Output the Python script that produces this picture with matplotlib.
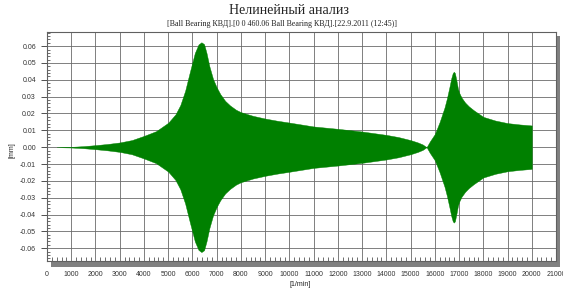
import matplotlib.pyplot as plt
import matplotlib.ticker as mticker
from matplotlib.patches import Rectangle

plt.rcParams['font.family'] = ['Liberation Sans', 'DejaVu Sans']

# envelope of the response, mm vs rpm
rpm = [400, 1000, 1500, 2000, 2500, 3000, 3500, 4000, 4500, 5000, 5300,
       5500, 5700, 5900, 6100, 6250, 6370, 6480, 6580, 6700, 6850, 7000,
       7150, 7350, 7550, 7800, 8000, 8500, 9000, 9500, 10000, 11000, 12000,
       13000, 14000, 14500, 15000, 15300, 15500, 15660, 15800, 16000, 16200,
       16400, 16500, 16600, 16680, 16740, 16785, 16830, 16900, 16950, 17000,
       17100, 17250, 17400, 17600, 17800, 18000, 18500, 19000, 19500, 20000]
amp = [0.0, 0.0002, 0.0006, 0.0012, 0.0019, 0.0028, 0.0042, 0.0067, 0.0095,
       0.0145, 0.0195, 0.0250, 0.0335, 0.0450, 0.0560, 0.0610, 0.0623,
       0.0612, 0.0560, 0.0480, 0.0405, 0.0355, 0.0315, 0.0275, 0.0248,
       0.0222, 0.0208, 0.0186, 0.0170, 0.0157, 0.0146, 0.0123, 0.0109,
       0.0093, 0.0073, 0.0060, 0.0042, 0.0028, 0.0016, 0.0, 0.0035, 0.0078,
       0.0150, 0.0235, 0.0290, 0.0355, 0.0410, 0.0440, 0.0448, 0.0440,
       0.0390, 0.0350, 0.0325, 0.0295, 0.0265, 0.0243, 0.0220, 0.0200,
       0.0180, 0.0158, 0.0143, 0.0135, 0.0129]
lower = [-a for a in amp]

xticks = list(range(0, 21001, 1000))
yticks = [-0.06, -0.05, -0.04, -0.03, -0.02, -0.01, 0.0,
          0.01, 0.02, 0.03, 0.04, 0.05, 0.06]

W, H = 563, 291
fig = plt.figure(figsize=(W / 100, H / 100), dpi=100)
fig.patch.set_facecolor('white')

# axes box in pixels: left 47, right 556, top 32, bottom 261
ax = fig.add_axes([47 / W, 1 - 261 / H, (556 - 47) / W, (261 - 32) / H])
ax.set_zorder(2)

# drop shadow of the plot frame
fig.patches.append(Rectangle((51 / W, 1 - 267 / H), (560 - 51) / W, (267 - 36) / H,
                             transform=fig.transFigure, facecolor='#808080',
                             edgecolor='none', zorder=0))

ax.fill_between(rpm, lower, amp, color='#008000', linewidth=0.3,
                edgecolor='#008000', zorder=3)

ax.set_xlim(0, 21000)
ax.set_ylim(-0.0676, 0.0684)
ax.set_xticks(xticks)
ax.set_yticks(yticks)
ax.xaxis.set_minor_locator(mticker.MultipleLocator(200))
ax.yaxis.set_minor_locator(mticker.MultipleLocator(0.002))
ax.yaxis.set_major_formatter(mticker.FormatStrFormatter('%.2f'))

ax.grid(True, which='major', color='#6a6a6a', linewidth=0.6, zorder=1)
ax.set_axisbelow(True)

for s in ax.spines.values():
    s.set_color('#606060')
    s.set_linewidth(0.8)

ax.tick_params(axis='x', which='major', direction='in', length=0, pad=7,
               labelsize=5, colors='#333333')
ax.tick_params(axis='x', which='minor', direction='in', length=3,
               width=0.6, color='#555555')
ax.tick_params(axis='y', which='major', direction='out', length=4, pad=4,
               labelsize=5, colors='#333333', width=0.6)
ax.tick_params(axis='y', which='minor', direction='in', length=2.5,
               width=0.6, color='#555555')

fig.text(300 / W, 1 - 285 / H, '[1/min]', ha='center', va='center',
         fontsize=5, color='#222222')
fig.text(12 / W, 1 - 150 / H, '[mm]', ha='center', va='center', rotation=90,
         fontsize=5, color='#222222')

fig.text(289 / W, 1 - 11 / H, 'Нелинейный анализ', ha='center', va='center',
         fontsize=10, family=['Liberation Serif', 'DejaVu Serif'], color='#222222')
fig.text(282 / W, 1 - 24 / H,
         '[Ball Bearing КВД].[0 0 460.06 Ball Bearing КВД].[22.9.2011 (12:45)]',
         ha='center', va='center', fontsize=5.8,
         family=['Liberation Serif', 'DejaVu Serif'], color='#222222')

fig.savefig('out.png', dpi=100, facecolor='white')
